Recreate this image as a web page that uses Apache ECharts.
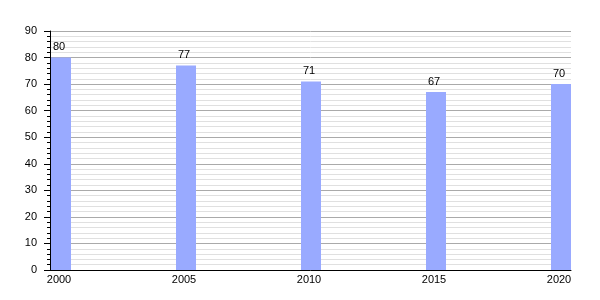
<!DOCTYPE html>
<html>
<head>
<meta charset="utf-8">
<script src="https://cdn.jsdelivr.net/npm/echarts@6/dist/echarts.min.js"></script>
<style>html,body{margin:0;padding:0;background:#fff}#c{width:600px;height:300px}</style>
</head>
<body>
<div id="c"></div>
<script>
var years = [2000, 2005, 2010, 2015, 2020];
var values = [80, 77, 71, 67, 70];
var yTicks = [0, 10, 20, 30, 40, 50, 60, 70, 80, 90];

var chart = echarts.init(document.getElementById('c'), null, {renderer: 'canvas'});
var font = 'Liberation Sans, Arial, sans-serif';
chart.setOption({
  animation: false,
  grid: {left: 50, right: 29, top: 31, bottom: 30, containLabel: false},
  xAxis: {
    type: 'value',
    min: 1999.56,
    max: 2020.4,
    axisLine: {show: true, lineStyle: {color: '#000', width: 1}},
    axisTick: {show: false},
    splitLine: {show: false},
    axisLabel: {
      customValues: years,
      color: '#000', fontFamily: font, fontSize: 11, margin: 4,
      padding: [0, 4, 0, 0],
      formatter: function (v) { return String(Math.round(v)); }
    }
  },
  yAxis: {
    type: 'value',
    min: 0,
    max: 90,
    interval: 10,
    axisLine: {show: true, lineStyle: {color: '#000', width: 1}},
    axisTick: {show: true, inside: false, length: 6, lineStyle: {color: '#000'}},
    minorTick: {show: true, splitNumber: 5, length: 3, lineStyle: {color: '#000'}},
    splitLine: {show: true, lineStyle: {color: '#aaaaaa', width: 1}},
    minorSplitLine: {show: true, lineStyle: {color: '#e0e0e0', width: 1}},
    axisLabel: {color: '#000', fontFamily: font, fontSize: 11, margin: 13}
  },
  series: [{
    type: 'bar',
    barWidth: 20,
    data: years.map(function (y, i) { return [y, values[i]]; }),
    itemStyle: {color: '#99aaff'},
    label: {show: true, position: 'top', distance: 5, offset: [-2, 0], color: '#000', fontFamily: font, fontSize: 11}
  }]
});
</script>
</body>
</html>
